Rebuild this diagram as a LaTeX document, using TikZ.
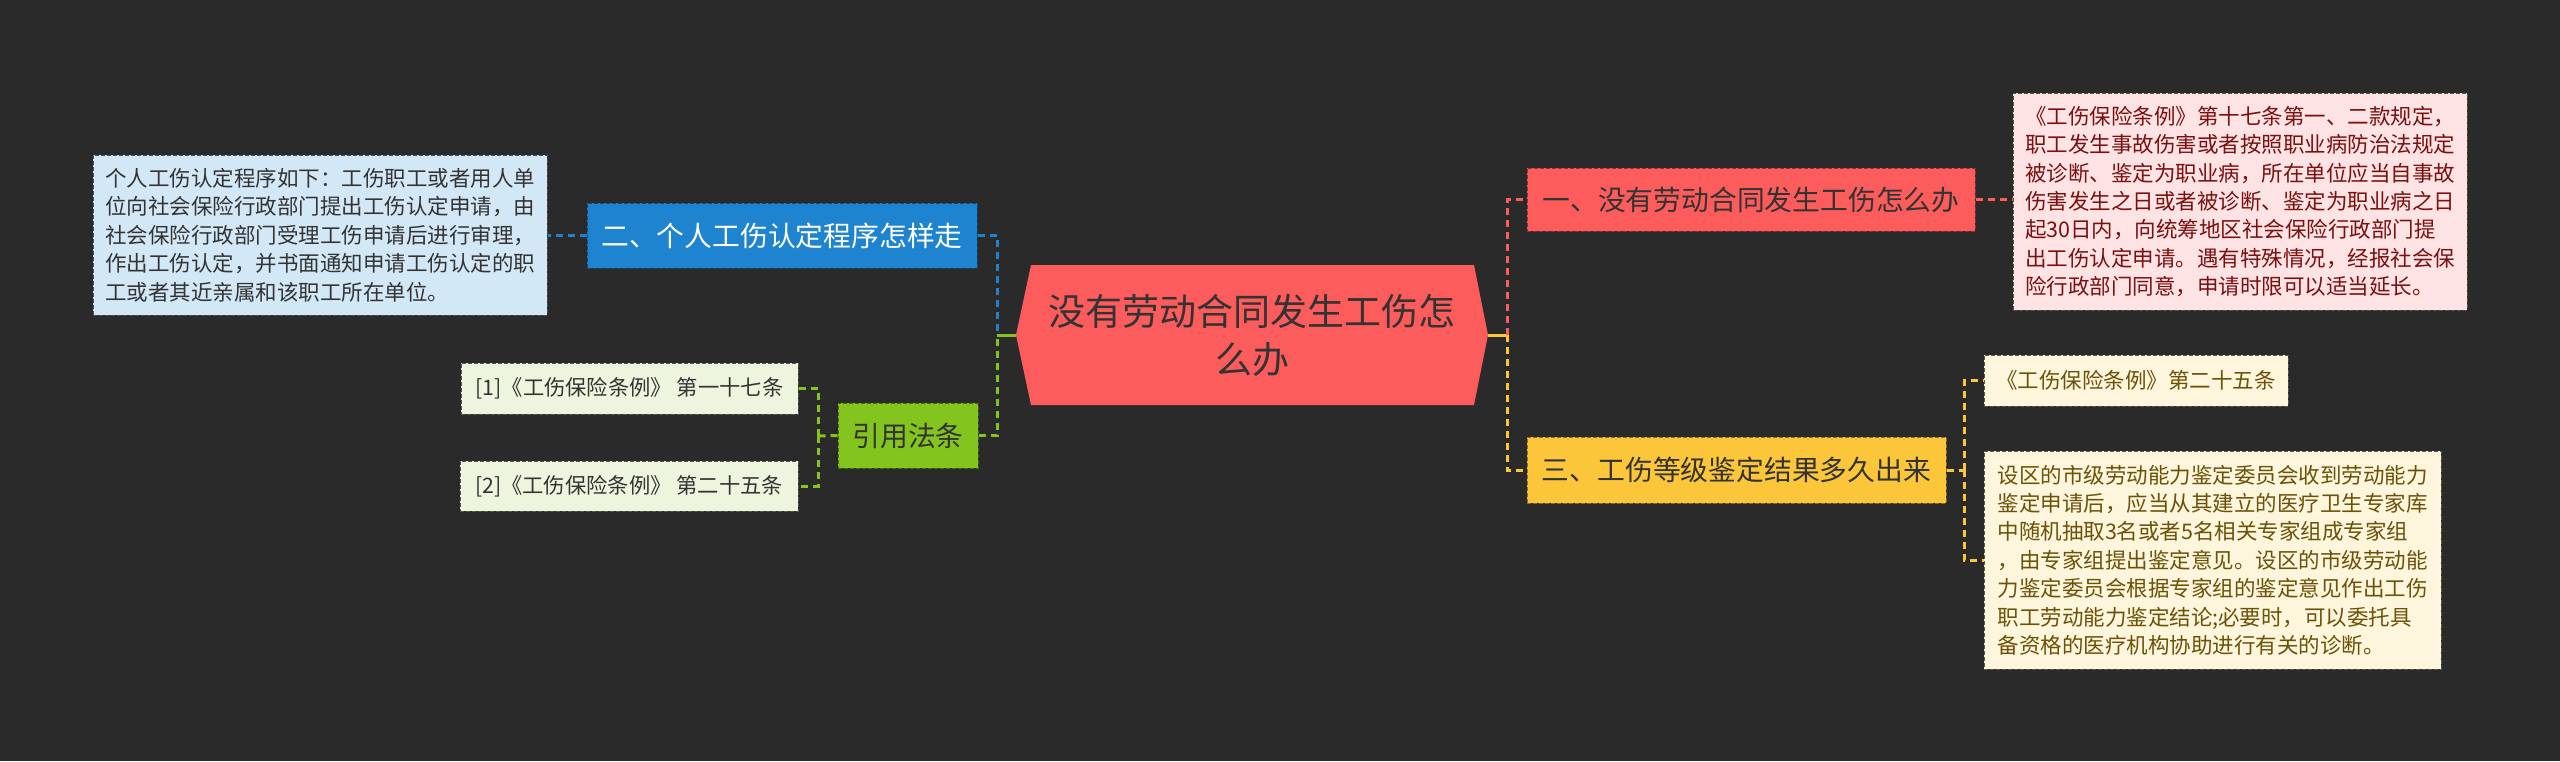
\documentclass[tikz,border=0pt]{standalone}
\usepackage{fontspec}
\setmainfont{Noto Sans CJK SC}
\usetikzlibrary{calc}
\definecolor{bg}{HTML}{2A2A2A}
\definecolor{redc}{HTML}{FC5C5C}
\definecolor{redleaf}{HTML}{FDE3E3}
\definecolor{redtxt}{HTML}{7A1010}
\definecolor{bluec}{HTML}{1F84CF}
\definecolor{blueleaf}{HTML}{D3E8F6}
\definecolor{greenc}{HTML}{84C41F}
\definecolor{greenleaf}{HTML}{EEF5DE}
\definecolor{yelc}{HTML}{FBC63A}
\definecolor{yelleaf}{HTML}{FDF5DC}
\definecolor{yeltxt}{HTML}{6B5208}
\definecolor{darktxt}{HTML}{333333}
\tikzset{
  box/.style={rectangle, inner sep=0pt, dash pattern=on 4pt off 2pt, line width=1pt, align=left, anchor=center},
  leaftxt/.style={font=\fontsize{21.5}{28.4}\selectfont},
  maintxt/.style={font=\fontsize{27.8}{34}\selectfont},
  conn/.style={line width=3pt, dash pattern=on 7pt off 5pt},
  solidconn/.style={line width=3pt}
}
\begin{document}
\begin{tikzpicture}[x=1pt,y=-1pt]
\fill[bg] (0,0) rectangle (2560,761);
\useasboundingbox (0,0) rectangle (2560,761);

% central
\fill[redc] (1016,335) -- (1031,265) -- (1474,265) -- (1488,335) -- (1474,405) -- (1031,405) -- cycle;
\node[minimum width=472pt, minimum height=140pt, inner sep=0pt, align=center, text=darktxt, font=\fontsize{37}{48}\selectfont] (C) at (1252,335) {没有劳动合同发生工伤怎\\么办};

% left: blue
\node[box, fill=bluec, draw=bluec!55!black, minimum width=390pt, minimum height=65pt, text=white, maintxt] (B) at (782,235.5) {二、个人工伤认定程序怎样走};
\node[box, fill=blueleaf, draw=blueleaf!35!black, minimum width=454pt, minimum height=160pt, text=darktxt, leaftxt] (L1) at (320,235) {个人工伤认定程序如下：工伤职工或者用人单\\位向社会保险行政部门提出工伤认定申请，由\\社会保险行政部门受理工伤申请后进行审理，\\作出工伤认定，并书面通知申请工伤认定的职\\工或者其近亲属和该职工所在单位。};

% left: green
\node[box, fill=greenc, draw=greenc!55!black, minimum width=140pt, minimum height=65pt, text=darktxt, maintxt] (G) at (908,435.5) {引用法条};
\node[box, fill=greenleaf, draw=greenleaf!35!black, minimum width=337pt, minimum height=51pt, text=darktxt, font=\fontsize{21.3}{26}\selectfont] (G1) at (629.5,388.5) {[1]《工伤保险条例》 第一十七条};
\node[box, fill=greenleaf, draw=greenleaf!35!black, minimum width=338pt, minimum height=50pt, text=darktxt, font=\fontsize{21.3}{26}\selectfont] (G2) at (629,486) {[2]《工伤保险条例》 第二十五条};

% right: red
\node[box, fill=redc, draw=redc!55!black, minimum width=448pt, minimum height=63pt, text=darktxt, maintxt] (R) at (1751,199.5) {一、没有劳动合同发生工伤怎么办};
\node[box, fill=redleaf, draw=redleaf!35!black, minimum width=454pt, minimum height=217pt, text=redtxt, leaftxt] (RL) at (2240,201.5) {《工伤保险条例》第十七条第一、二款规定，\\职工发生事故伤害或者按照职业病防治法规定\\被诊断、鉴定为职业病，所在单位应当自事故\\伤害发生之日或者被诊断、鉴定为职业病之日\\起30日内，向统筹地区社会保险行政部门提\\出工伤认定申请。遇有特殊情况，经报社会保\\险行政部门同意，申请时限可以适当延长。};

% right: yellow
\node[box, fill=yelc, draw=yelc!55!black, minimum width=419pt, minimum height=66pt, text=darktxt, maintxt] (Y) at (1736.5,470) {三、工伤等级鉴定结果多久出来};
\node[box, fill=yelleaf, draw=yelleaf!35!black, minimum width=304pt, minimum height=51pt, text=yeltxt, leaftxt] (Y1) at (2136,380.5) {《工伤保险条例》第二十五条};
\node[box, fill=yelleaf, draw=yelleaf!35!black, minimum width=457pt, minimum height=218pt, text=yeltxt, leaftxt] (Y2) at (2212.5,560) {设区的市级劳动能力鉴定委员会收到劳动能力\\鉴定申请后，应当从其建立的医疗卫生专家库\\中随机抽取3名或者5名相关专家组成专家组\\，由专家组提出鉴定意见。设区的市级劳动能\\力鉴定委员会根据专家组的鉴定意见作出工伤\\职工劳动能力鉴定结论;必要时，可以委托具\\备资格的医疗机构协助进行有关的诊断。};

% connectors left
\coordinate (LJ) at (997,335);
\draw[conn, bluec] (B.east) -| (LJ);
\draw[conn, greenc] (G.east) -| (LJ);
\draw[solidconn, greenc] (LJ) -- (C.west);
\draw[conn, bluec] (B.west) -- (B.west -| L1.east);
\coordinate (GJ) at (818,436);
\draw[conn, greenc] (G.west) -- (GJ);
\draw[conn, greenc] (GJ) |- (G1.east);
\draw[conn, greenc] (GJ) |- (G2.east);

% connectors right
\coordinate (RJ) at (1507,335);
\draw[solidconn, yelc] (C.east) -- (RJ);
\draw[conn, redc] (RJ) |- (R.west);
\draw[conn, yelc] (RJ) |- (Y.west);
\draw[conn, redc] (R.east) -- (R.east -| RL.west);
\coordinate (YJ) at (1964,470);
\draw[conn, yelc] (Y.east) -- (YJ);
\draw[conn, yelc] (YJ) |- (Y1.west);
\draw[conn, yelc] (YJ) |- (Y2.west);
\end{tikzpicture}
\end{document}
